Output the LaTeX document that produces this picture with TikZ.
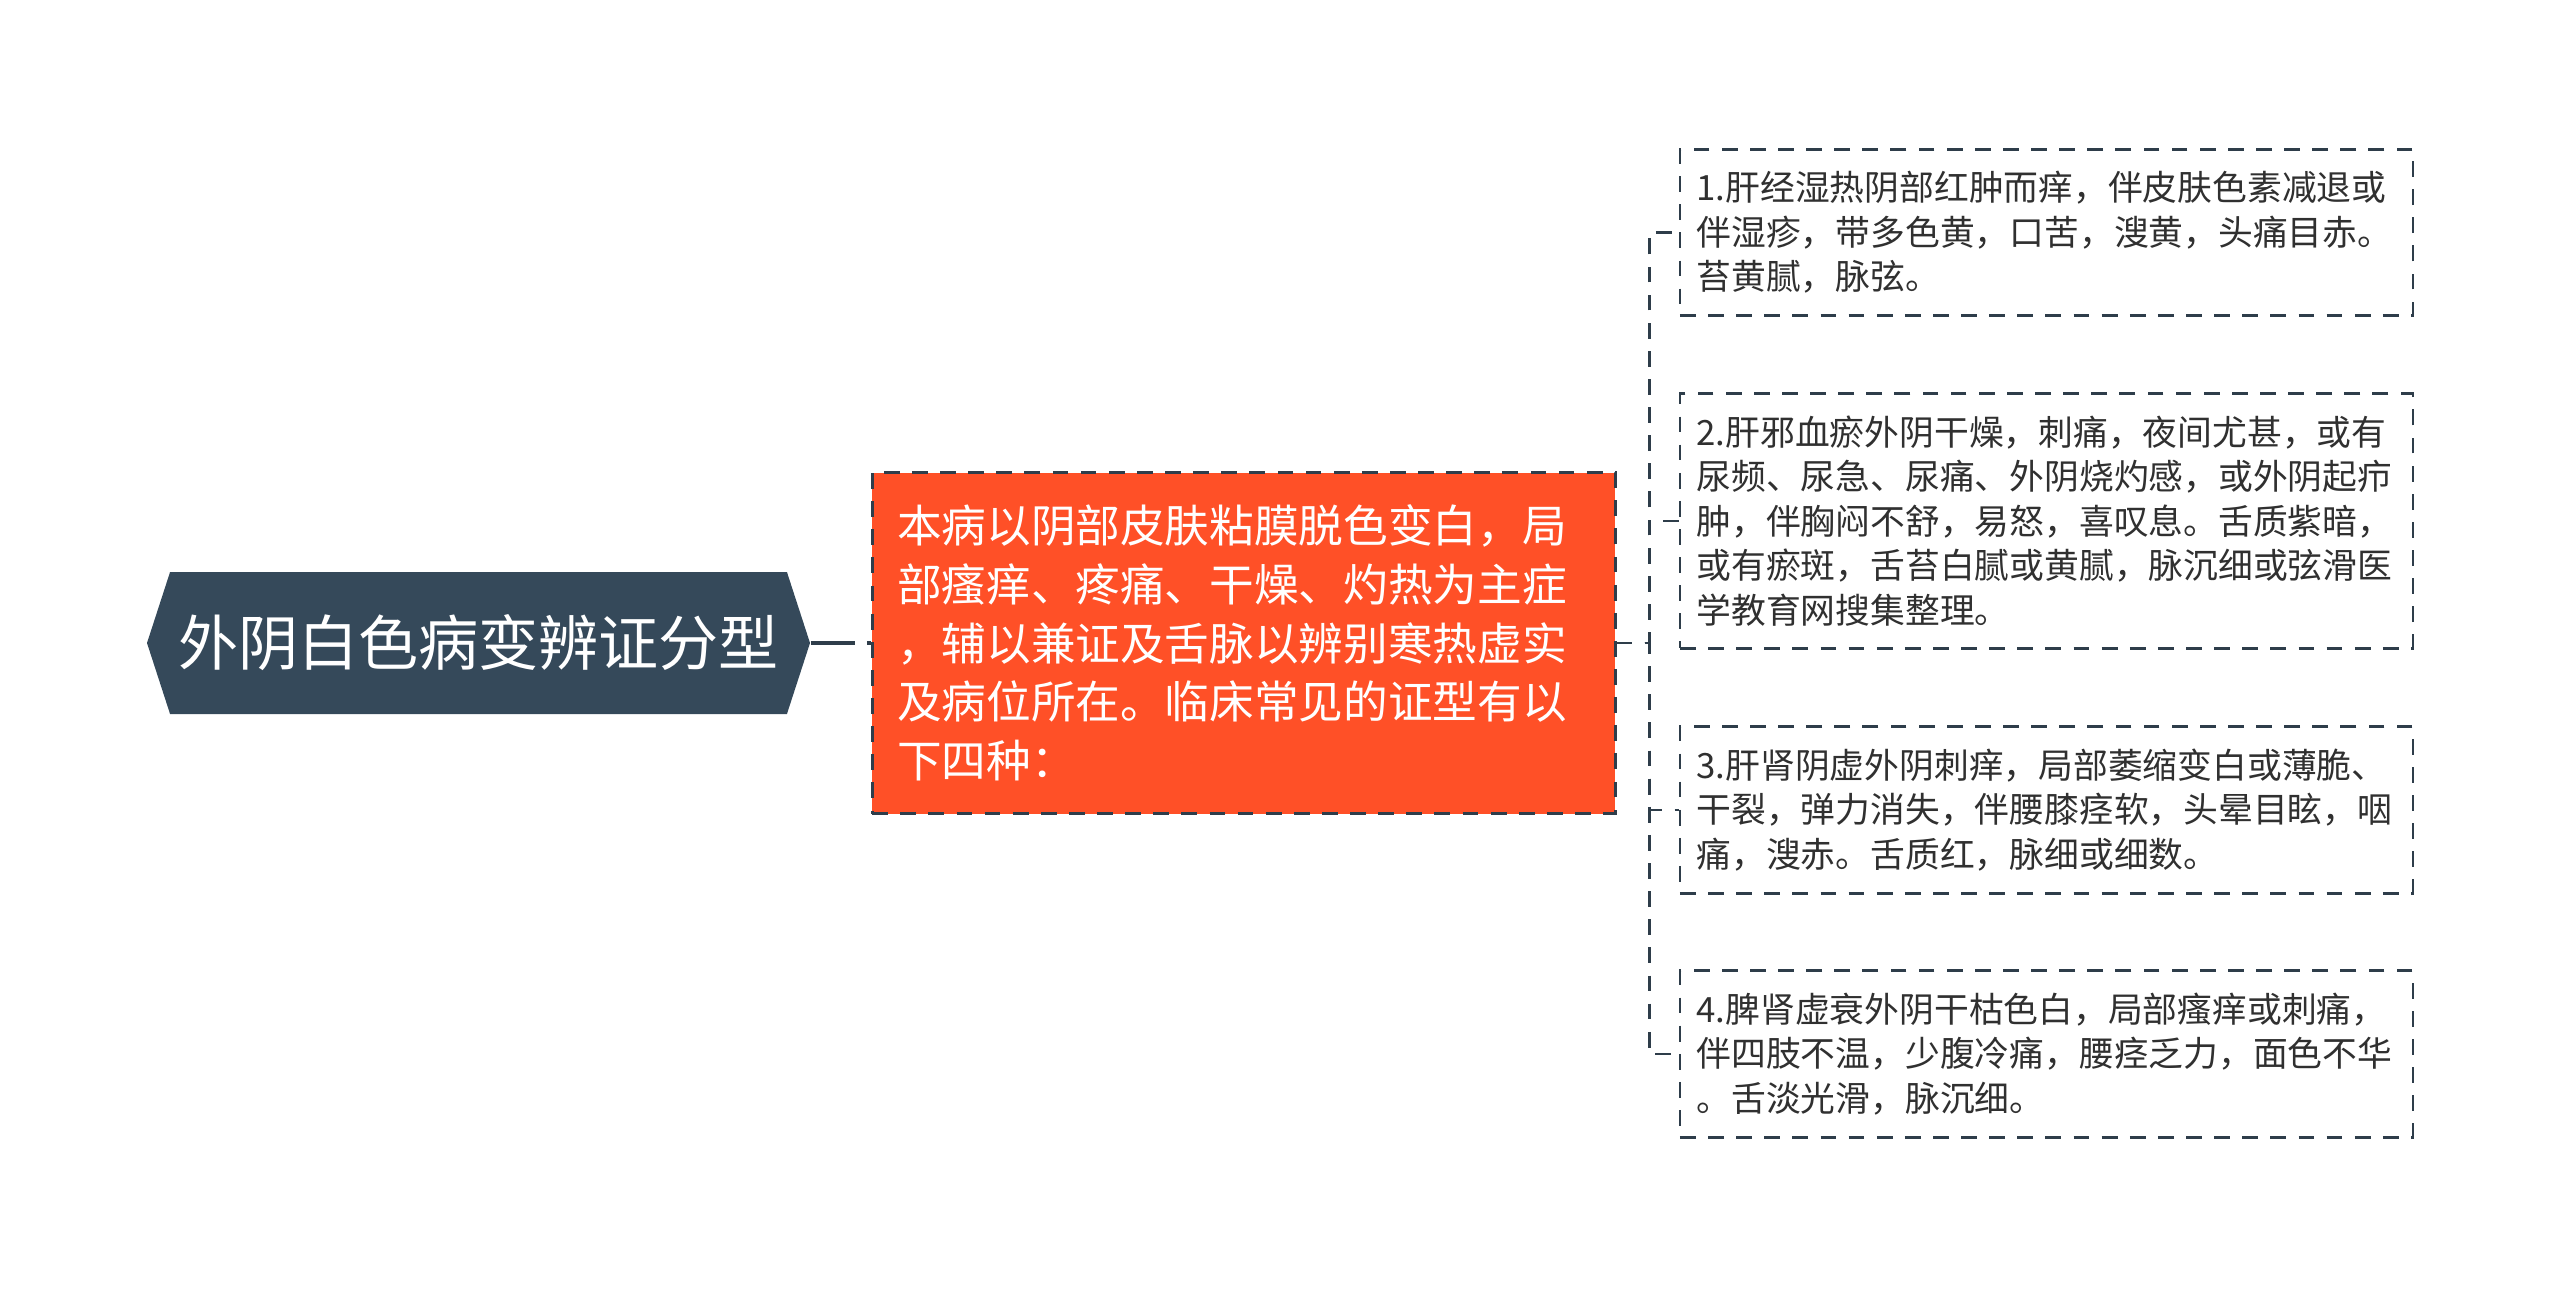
\documentclass[tikz,border=0pt]{standalone}
\usepackage{fontspec}
\setmainfont{Noto Sans CJK SC}
\usetikzlibrary{positioning,shapes.symbols}
\definecolor{rootfill}{HTML}{35495A}
\definecolor{mainfill}{HTML}{FF5027}
\definecolor{linecol}{HTML}{2E3D4A}
\definecolor{textcol}{HTML}{303030}
\tikzset{
    dashline/.style={draw=linecol, line width=0.8pt, dash pattern=on 4.5pt off 3.5pt},
    rootlink/.style={draw=linecol, line width=1.3pt, dash pattern=on 12.5pt off 3.5pt},
    rootnode/.style={signal, signal to=west and east, signal pointer angle=144,
        fill=rootfill, text=white, minimum width=6.63cm, minimum height=1.42cm,
        inner sep=0pt, font=\fontsize{17.1pt}{20pt}\selectfont},
    mainbox/.style={rectangle, dashline, fill=mainfill, text=white,
        text width=6.93cm, align=left, inner xsep=0.25cm, minimum height=3.41cm,
        font=\fontsize{12.7pt}{16.7pt}\selectfont},
    leafbox/.style={rectangle, dashline, fill=white, text=textcol,
        text width=7.0cm, align=left, inner xsep=0.165cm, inner ysep=0.22cm,
        font=\fontsize{9.9pt}{12.66pt}\selectfont},
}

\begin{document}
\begin{tikzpicture}
            \useasboundingbox (0,0) rectangle (25.6,-12.9);

            \node[rootnode] (root) at (4.785,-6.43) {外阴白色病变辨证分型};

            \node[mainbox, right=0.6cm of root] (main) {本病以阴部皮肤粘膜脱色变白，局\\部瘙痒、疼痛、干燥、灼热为主症\\，辅以兼证及舌脉以辨别寒热虚实\\及病位所在。临床常见的证型有以\\下四种：};

            % four types
            \node[leafbox, right=0.62cm of main.east, yshift=4.105cm] (t1) {1.肝经湿热阴部红肿而痒，伴皮肤色素减退或\\伴湿疹，带多色黄，口苦，溲黄，头痛目赤。\\苔黄腻，脉弦。};
            \node[leafbox, right=0.62cm of main.east, yshift=1.22cm] (t2) {2.肝邪血瘀外阴干燥，刺痛，夜间尤甚，或有\\尿频、尿急、尿痛、外阴烧灼感，或外阴起疖\\肿，伴胸闷不舒，易怒，喜叹息。舌质紫暗，\\或有瘀斑，舌苔白腻或黄腻，脉沉细或弦滑医\\学教育网搜集整理。};
            \node[leafbox, right=0.62cm of main.east, yshift=-1.67cm] (t3) {3.肝肾阴虚外阴刺痒，局部萎缩变白或薄脆、\\干裂，弹力消失，伴腰膝痉软，头晕目眩，咽\\痛，溲赤。舌质红，脉细或细数。};
            \node[leafbox, right=0.62cm of main.east, yshift=-4.11cm] (t4) {4.脾肾虚衰外阴干枯色白，局部瘙痒或刺痛，\\伴四肢不温，少腹冷痛，腰痉乏力，面色不华\\。舌淡光滑，脉沉细。};

            \draw[rootlink] (root.east) -- (main.west);
            \foreach \t in {t1,t2,t3,t4}
                \draw[dashline] (main.east) -- ++(0.33,0) |- (\t.west);
\end{tikzpicture}
\end{document}
